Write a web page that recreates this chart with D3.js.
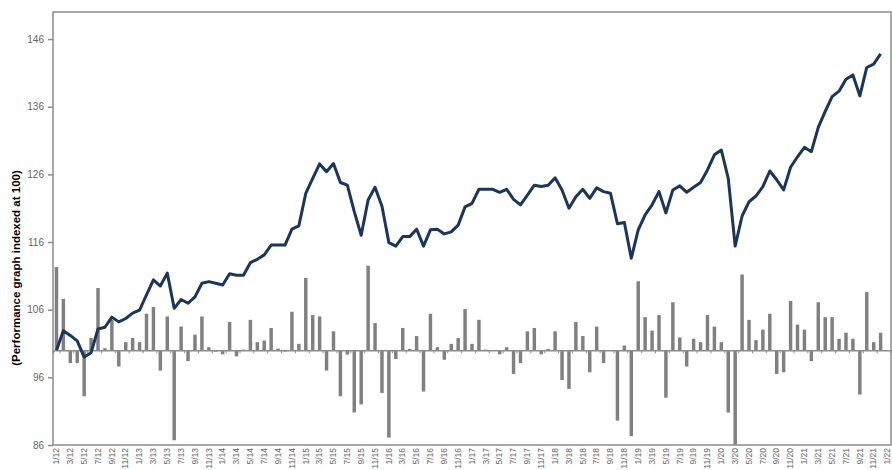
<!DOCTYPE html>
<html>
<head>
<meta charset="utf-8">
<script src="https://cdn.jsdelivr.net/npm/d3@7"></script>
<style>
  body { margin: 0; background: #fff; }
  #container { width: 892px; height: 470px; overflow: hidden; }
  .axis text { font-family: "Liberation Sans", Arial, sans-serif; fill: #666666; }
</style>
</head>
<body>
<div id="container"></div>
<script>
    // Month labels (every month from 1/12 to 1/22)
    const months = [];
    for (let yr = 12; yr <= 22; yr++) {
        for (let m = 1; m <= 12; m++) {
            if (yr === 22 && m > 1) break;
            months.push(m + "/" + yr);
        }
    }

    // Performance index (line), 1/12 .. 12/21
    const indexValues = [
        100.0, 102.9, 102.2, 101.4, 99.0, 99.65, 103.15, 103.4, 104.9, 104.2,
        104.7, 105.5, 105.95, 108.2, 110.4, 109.5, 111.4, 106.2, 107.5, 106.95,
        107.9, 109.9, 110.15, 109.9, 109.65, 111.3, 111.1, 111.1, 112.95, 113.45,
        114.1, 115.55, 115.55, 115.55, 117.9, 118.4, 123.2, 125.4, 127.55, 126.4,
        127.6, 124.8, 124.4, 120.5, 117.0, 122.2, 124.1, 121.3, 115.9, 115.4,
        116.8, 116.8, 117.9, 115.4, 117.8, 117.9, 117.2, 117.5, 118.5, 121.2,
        121.7, 123.8, 123.8, 123.8, 123.35, 123.8, 122.3, 121.5, 122.95, 124.4,
        124.2, 124.4, 125.5, 123.7, 121.0, 122.7, 123.8, 122.45, 124.0, 123.45,
        123.2, 118.7, 118.9, 113.6, 117.8, 120.0, 121.5, 123.45, 120.3, 123.7,
        124.3, 123.35, 124.1, 124.8, 126.65, 128.9, 129.6, 125.4, 115.4, 119.85,
        121.95, 122.8, 124.2, 126.5, 125.2, 123.7, 127.05, 128.6, 130.0, 129.35,
        132.95, 135.3, 137.5, 138.3, 140.05, 140.7, 137.6, 141.8, 142.3, 143.8
    ];

    // Monthly bars, drawn from the 100 line (in axis units)
    const monthlyBars = [
        12.3, 7.6, -1.9, -1.9, -6.8, 1.8, 9.2, 0.3, 4.5, -2.4,
        1.2, 1.8, 1.2, 5.4, 6.4, -3.0, 5.0, -13.3, 3.5, -1.6,
        2.3, 5.0, 0.45, -0.2, -0.6, 4.2, -0.9, 0.1, 4.5, 1.2,
        1.45, 3.3, 0.25, -0.2, 5.7, 0.95, 10.7, 5.2, 5.0, -3.0,
        2.8, -6.8, -0.64, -9.2, -8.0, 12.5, 4.0, -6.3, -12.9, -1.3,
        3.3, 0.2, 2.1, -6.1, 5.4, 0.45, -1.4, 0.95, 1.8, 6.1,
        0.95, 4.5, 0.1, -0.1, -0.6, 0.45, -3.5, -1.9, 2.8, 3.3,
        -0.6, 0.2, 2.8, -4.4, -5.7, 4.2, 2.1, -3.25, 3.5, -1.9,
        -0.1, -10.4, 0.7, -12.7, 10.2, 4.9, 2.9, 5.2, -7.0, 7.1,
        1.9, -2.4, 1.7, 1.2, 5.2, 3.5, 1.2, -9.2, -14.0, 11.2,
        4.5, 1.5, 3.05, 5.4, -3.5, -3.25, 7.3, 3.8, 3.05, -1.6,
        7.1, 4.9, 4.9, 1.7, 2.6, 1.7, -6.55, 8.6, 1.2, 2.6
    ];

    const yTicks = [86, 96, 106, 116, 126, 136, 146];

    const width = 892, height = 470;
    const plotLeft = 53, plotRight = 891, plotTop = 12, plotBottom = 445;

    const svg = d3.select("#container")
                    .append("svg")
                    .attr("width", width)
                    .attr("height", height);

    // Scales
    const x = d3.scaleBand().domain(months).range([plotLeft, plotRight]).padding(0);
    const y = d3.scaleLinear().domain([86, 150]).range([plotBottom, plotTop]);
    const cx = d => x(d) + x.bandwidth() / 2;

    // Bars
    const barW = x.bandwidth() * 0.5;
    svg.append("g")
        .selectAll("rect")
        .data(monthlyBars)
        .enter()
        .append("rect")
        .attr("x", (d, i) => cx(months[i]) - barW / 2)
        .attr("y", d => y(100 + Math.max(0, d)))
        .attr("width", barW)
        .attr("height", d => Math.abs(y(100 + d) - y(100)))
        .attr("fill", "#808080");

    // Baseline at 100 with small ticks
    const midAxis = svg.append("g")
        .attr("class", "axis")
        .attr("transform", "translate(0," + y(100) + ")")
        .call(d3.axisBottom(x)
                .tickValues(months.filter((d, i) => i % 2 === 1))
                .tickSize(3)
                .tickFormat(""));
    midAxis.select(".domain").attr("stroke", "#8c8c8c").attr("stroke-width", 1.5);
    midAxis.selectAll(".tick line").attr("stroke", "#8c8c8c")
        .attr("transform", "translate(" + (-x.bandwidth() / 2) + ",0)");

    // Plot frame
    svg.append("rect")
        .attr("x", plotLeft)
        .attr("y", plotTop)
        .attr("width", plotRight - plotLeft)
        .attr("height", plotBottom - plotTop)
        .attr("fill", "none")
        .attr("stroke", "#8c8c8c")
        .attr("stroke-width", 1.5);

    // Performance line
    svg.append("path")
        .datum(indexValues)
        .attr("fill", "none")
        .attr("stroke", "#1a365d")
        .attr("stroke-width", 3)
        .attr("stroke-linejoin", "round")
        .attr("d", d3.line()
                    .x((d, i) => cx(months[i]))
                    .y(d => y(d)));

    // Y axis
    const yAxis = svg.append("g")
        .attr("class", "axis")
        .attr("transform", "translate(" + plotLeft + ",0)")
        .call(d3.axisLeft(y).tickValues(yTicks).tickSize(5).tickPadding(4));
    yAxis.select(".domain").remove();
    yAxis.selectAll(".tick line").attr("stroke", "#8c8c8c").attr("stroke-width", 1.5);
    yAxis.selectAll(".tick text").attr("font-size", "10px");

    // X axis labels at the bottom
    const xAxis = svg.append("g")
        .attr("class", "axis")
        .attr("transform", "translate(0," + plotBottom + ")")
        .call(d3.axisBottom(x)
                .tickValues(months.filter((d, i) => i % 2 === 0))
                .tickSize(0));
    xAxis.select(".domain").remove();
    xAxis.selectAll(".tick text")
        .attr("font-size", "8.5px")
        .attr("fill", "#707070")
        .attr("text-anchor", "end")
        .attr("transform", "rotate(-90)")
        .attr("x", -3)
        .attr("y", 0)
        .attr("dy", "0.32em");

    // Y axis title
    svg.append("text")
        .attr("transform", "translate(20,268) rotate(-90)")
        .attr("text-anchor", "middle")
        .attr("font-family", "'Liberation Sans', Arial, sans-serif")
        .attr("font-weight", "bold")
        .attr("font-size", "11.5px")
        .attr("fill", "#000")
        .text("(Performance graph indexed at 100)");
</script>
</body>
</html>
